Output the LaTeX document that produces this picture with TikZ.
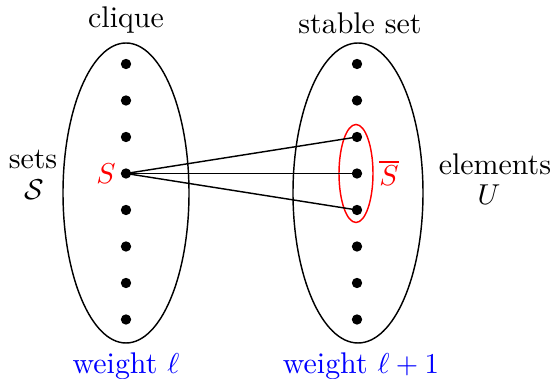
\documentclass[tikz,border=0pt]{standalone}
\usepackage{amsmath}
\usepackage{amssymb}
\usepackage{xcolor}
\usepackage{tikz}
\usetikzlibrary{positioning, calc}
\definecolor{setred}{RGB}{255,0,0}
\definecolor{wtblue}{RGB}{0,0,255}
\tikzset{
  vtx/.style={circle, fill=black, inner sep=0pt, minimum size=3.6pt},
  lbl/.style={font=\fontsize{10.4}{12.5}\selectfont, inner sep=1pt},
  wt/.style={lbl, text=wtblue},
  edge/.style={line width=0.5pt},
}

\begin{document}
\begin{tikzpicture}[x=0.01222cm, y=-0.01222cm]
\useasboundingbox (0,0) rectangle (555,379);
% the two sides
\draw[line width=0.5pt] (126,193) ellipse [x radius=63, y radius=150];
\draw[line width=0.5pt] (358,193) ellipse [x radius=65, y radius=150];
% vertices
\foreach \i in {1,...,8} {
  \node[vtx] (l\i) at (126,{64+36.5*(\i-1)}) {};
  \node[vtx] (r\i) at (357,{64+36.5*(\i-1)}) {};
}
\draw[setred, line width=0.5pt] (356,173.5) ellipse [x radius=17, y radius=49];
% edges from S
\draw[edge] (l4.center) -- (r3.center);
\draw[edge] (l4.center) -- (r4.center);
\draw[edge] (l4.center) -- (r5.center);
% labels
\node[lbl] (clq) at (126,20) {clique};
\node[lbl] (stb) at (360,23) {stable set};
\node[lbl, text=setred] (S) at (106,174) {$S$};
\node[lbl, text=setred] (Sbar) at (389,173) {$\overline{S}$};
\node[lbl] (sets) at (33,159) {sets};
\node[lbl] (calS) at (34,190) {$\mathcal{S}$};
\node[lbl] (elem) at (495,164) {elements};
\node[lbl] (U) at (489,195) {$U$};
\node[wt] (wl) at (126,366) {weight $\ell$};
\node[wt] (wl1) at (361,366) {weight $\ell+1$};
\end{tikzpicture}
\end{document}
